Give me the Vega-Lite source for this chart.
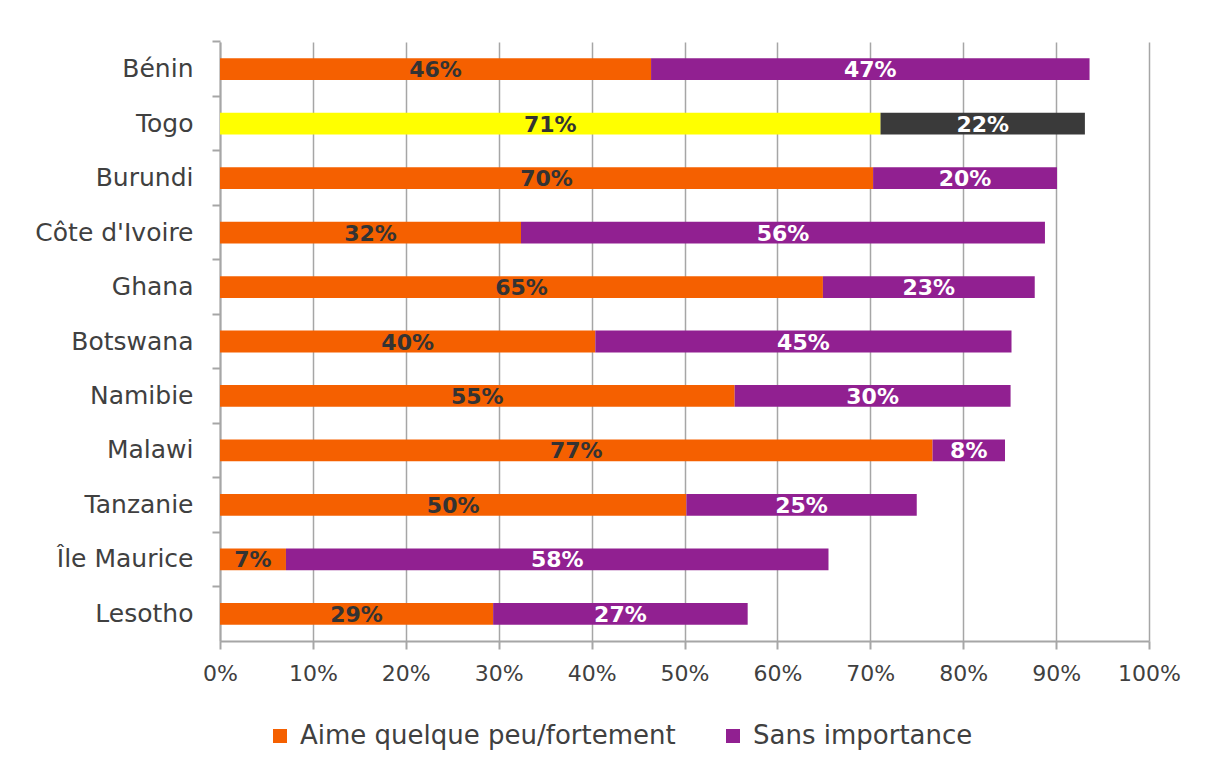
{
  "$schema": "https://vega.github.io/schema/vega-lite/v6.json",
  "width": 929,
  "height": 599,
  "autosize": {"type": "none"},
  "padding": {"left": 220, "top": 42, "right": 64, "bottom": 139},
  "background": "white",
  "config": {
    "view": {"stroke": null},
    "font": "DejaVu Sans"
  },
  "data": {
    "values": [
      {"pays": "Bénin", "serie": "Aime quelque peu/fortement", "couleur": "Aime quelque peu/fortement", "valeur": 0.464},
      {"pays": "Bénin", "serie": "Sans importance", "couleur": "Sans importance", "valeur": 0.472},
      {"pays": "Togo", "serie": "Aime quelque peu/fortement", "couleur": "Togo aime", "valeur": 0.711},
      {"pays": "Togo", "serie": "Sans importance", "couleur": "Togo sans", "valeur": 0.220},
      {"pays": "Burundi", "serie": "Aime quelque peu/fortement", "couleur": "Aime quelque peu/fortement", "valeur": 0.703},
      {"pays": "Burundi", "serie": "Sans importance", "couleur": "Sans importance", "valeur": 0.198},
      {"pays": "Côte d'Ivoire", "serie": "Aime quelque peu/fortement", "couleur": "Aime quelque peu/fortement", "valeur": 0.324},
      {"pays": "Côte d'Ivoire", "serie": "Sans importance", "couleur": "Sans importance", "valeur": 0.564},
      {"pays": "Ghana", "serie": "Aime quelque peu/fortement", "couleur": "Aime quelque peu/fortement", "valeur": 0.649},
      {"pays": "Ghana", "serie": "Sans importance", "couleur": "Sans importance", "valeur": 0.228},
      {"pays": "Botswana", "serie": "Aime quelque peu/fortement", "couleur": "Aime quelque peu/fortement", "valeur": 0.404},
      {"pays": "Botswana", "serie": "Sans importance", "couleur": "Sans importance", "valeur": 0.448},
      {"pays": "Namibie", "serie": "Aime quelque peu/fortement", "couleur": "Aime quelque peu/fortement", "valeur": 0.554},
      {"pays": "Namibie", "serie": "Sans importance", "couleur": "Sans importance", "valeur": 0.297},
      {"pays": "Malawi", "serie": "Aime quelque peu/fortement", "couleur": "Aime quelque peu/fortement", "valeur": 0.767},
      {"pays": "Malawi", "serie": "Sans importance", "couleur": "Sans importance", "valeur": 0.078},
      {"pays": "Tanzanie", "serie": "Aime quelque peu/fortement", "couleur": "Aime quelque peu/fortement", "valeur": 0.502},
      {"pays": "Tanzanie", "serie": "Sans importance", "couleur": "Sans importance", "valeur": 0.248},
      {"pays": "Île Maurice", "serie": "Aime quelque peu/fortement", "couleur": "Aime quelque peu/fortement", "valeur": 0.071},
      {"pays": "Île Maurice", "serie": "Sans importance", "couleur": "Sans importance", "valeur": 0.584},
      {"pays": "Lesotho", "serie": "Aime quelque peu/fortement", "couleur": "Aime quelque peu/fortement", "valeur": 0.294},
      {"pays": "Lesotho", "serie": "Sans importance", "couleur": "Sans importance", "valeur": 0.274}
    ]
  },
  "encoding": {
    "y": {
      "field": "pays",
      "type": "nominal",
      "sort": null,
      "title": null,
      "scale": {"paddingInner": 0.6, "paddingOuter": 0.3},
      "axis": {
        "bandPosition": -0.75,
        "labelFontSize": 25,
        "labelColor": "#404040",
        "labelPadding": 19,
        "tickSize": 8,
        "tickColor": "#a6a6a6",
        "tickWidth": 2,
        "domainColor": "#a6a6a6",
        "domainWidth": 2,
        "grid": false
      }
    },
    "x": {
      "field": "valeur",
      "type": "quantitative",
      "stack": "zero",
      "title": null,
      "scale": {"domain": [0, 1], "nice": false},
      "axis": {
        "format": ".0%",
        "values": [0, 0.1, 0.2, 0.3, 0.4, 0.5, 0.6, 0.7, 0.8, 0.9, 1],
        "labelFontSize": 22,
        "labelColor": "#404040",
        "labelPadding": 14,
        "labelFlush": false,
        "tickSize": 8,
        "tickColor": "#a6a6a6",
        "tickWidth": 2,
        "domainColor": "#a6a6a6",
        "domainWidth": 2,
        "grid": true,
        "gridColor": "#a6a6a6",
        "gridWidth": 1.5,
        "gridOpacity": 1
      }
    },
    "order": {"field": "serie", "type": "nominal"}
  },
  "layer": [
    {
      "mark": {"type": "bar"},
      "encoding": {
        "color": {
          "field": "couleur",
          "type": "nominal",
          "scale": {
            "domain": ["Aime quelque peu/fortement", "Sans importance", "Togo aime", "Togo sans"],
            "range": ["#f56000", "#912091", "#ffff00", "#3a3a3a"]
          },
          "legend": {
            "title": null,
            "values": ["Aime quelque peu/fortement", "Sans importance"],
            "orient": "none",
            "direction": "horizontal",
            "legendX": 47,
            "legendY": 681,
            "symbolType": "square",
            "symbolSize": 196,
            "symbolStrokeWidth": 0,
            "labelFontSize": 26,
            "labelColor": "#404040",
            "labelOffset": 7,
            "labelLimit": 500,
            "columnPadding": 44,
            "padding": 0
          }
        }
      }
    },
    {
      "mark": {"type": "text", "fontSize": 22, "fontWeight": "bold", "baseline": "middle", "align": "center", "dy": 1},
      "encoding": {
        "x": {"field": "valeur", "type": "quantitative", "stack": "zero", "bandPosition": 0.5},
        "text": {"field": "valeur", "type": "quantitative", "format": ".0%"},
        "color": {
          "condition": {"test": "datum.serie == 'Aime quelque peu/fortement'", "value": "#333333"},
          "value": "white"
        }
      }
    }
  ]
}
